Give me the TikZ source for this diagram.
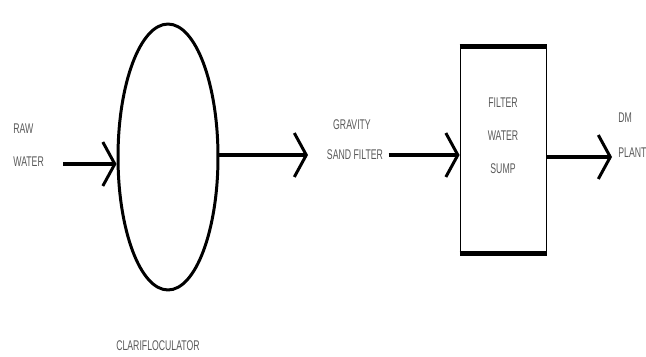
\documentclass[tikz,border=0pt]{standalone}
\usepackage{fontspec}
\newfontfamily\narrowsans[FakeStretch=0.62]{Liberation Sans}
\usetikzlibrary{arrows.meta,shapes.geometric}

\begin{document}
\begin{tikzpicture}[
  x=0.02cm, y=-0.02cm,
  every node/.style={font=\narrowsans\fontsize{8}{18.7}\selectfont, text=black!65, inner sep=0pt},
  flow/.style={line width=2.8pt, -{Straight Barb[length=0.24cm, width=0.88cm, line width=1.7pt]}},
  vessel/.style={ellipse, draw, text=black, line width=1.7pt, minimum width=2cm, minimum height=5.32cm},
  sump/.style={rectangle, draw, line width=1.1pt, minimum width=1.72cm, minimum height=4.12cm}
]
  \useasboundingbox (0,0) rectangle (646,356);
  % units
  \node[vessel] (clar) at (168,157) {};
  \node[sump] (box) at (503.5,150) {};
  \draw[line width=2.8pt] (box.north west) -- (box.north east);
  \draw[line width=2.8pt] (box.south west) -- (box.south east);
  % labels
  \node[anchor=west, align=left] (raw) at (13,145) {RAW\\WATER};
  \node (clarlbl) at (158,346) {CLARIFLOCULATOR};
  \node (grav) at (352,125) {GRAVITY};
  \node (sand) at (355,155) {SAND FILTER};
  \node[align=center] (sumplbl) at (503,136) {FILTER\\WATER\\SUMP};
  \node[anchor=west] (dm) at (618,118) {DM};
  \node[anchor=west] (plant) at (618,153) {PLANT};
  % flows
  \coordinate (rawstart) at (63,164);
  \coordinate (gravin) at (308,155);
  \coordinate (dmin) at (612,157);
  \draw[flow] (rawstart) -- (rawstart -| clar.west);
  \draw[flow] (clar.east |- gravin) -- (gravin);
  \draw[flow] ([xshift=3]sand.east) -- (sand.east -| box.west);
  \draw[flow] (box.east |- dmin) -- (dmin);
\end{tikzpicture}
\end{document}
